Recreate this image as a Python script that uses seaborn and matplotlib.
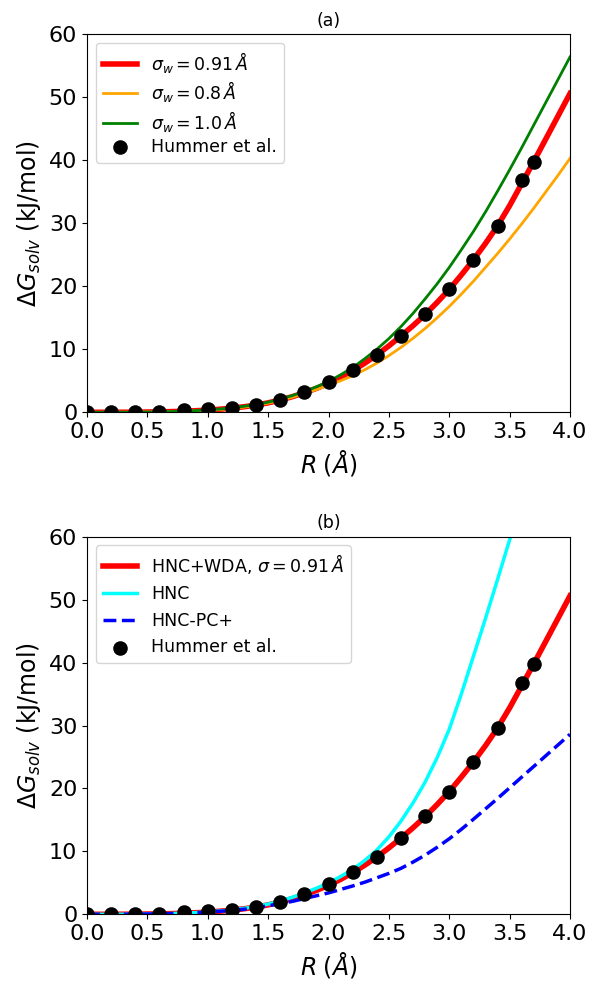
import numpy as np
import pandas as pd
import matplotlib
matplotlib.use("Agg")
import matplotlib.pyplot as plt
import seaborn as sns

# ---- data ----
R_grid = [0.0, 0.1, 0.2, 0.3, 0.4, 0.5, 0.6, 0.7, 0.8, 0.9, 1.0,
          1.1, 1.2, 1.3, 1.4, 1.5, 1.6, 1.7, 1.8, 1.9, 2.0,
          2.1, 2.2, 2.3, 2.4, 2.5, 2.6, 2.7, 2.8, 2.9, 3.0,
          3.1, 3.2, 3.3, 3.4, 3.5, 3.6, 3.7, 3.8, 3.9, 4.0]

wda_091 = [0.0, 0.0, 0.0, 0.01, 0.02, 0.04, 0.07, 0.11, 0.17, 0.25, 0.35,
           0.49, 0.65, 0.88, 1.15, 1.5, 1.95, 2.48, 3.1, 3.8, 4.6,
           5.55, 6.6, 7.8, 9.1, 10.55, 12.1, 13.75, 15.5, 17.45, 19.5,
           21.8, 24.2, 26.8, 29.6, 32.8, 36.3, 39.8, 43.4, 47.0, 50.6]
wda_080 = [0.0, 0.0, 0.0, 0.01, 0.02, 0.04, 0.06, 0.1, 0.15, 0.22, 0.32,
           0.45, 0.6, 0.82, 1.1, 1.45, 1.9, 2.4, 3.0, 3.6, 4.3,
           5.0, 5.8, 6.75, 7.8, 9.0, 10.3, 11.75, 13.3, 15.0, 16.8,
           18.75, 20.8, 23.0, 25.2, 27.5, 29.9, 32.4, 35.0, 37.6, 40.3]
wda_100 = [0.0, 0.0, 0.0, 0.01, 0.02, 0.04, 0.07, 0.12, 0.18, 0.27, 0.38,
           0.52, 0.7, 0.95, 1.25, 1.6, 2.1, 2.65, 3.3, 4.05, 4.9,
           5.95, 7.1, 8.5, 10.0, 11.7, 13.6, 15.7, 18.0, 20.4, 23.0,
           25.8, 28.7, 31.8, 35.1, 38.5, 42.0, 45.6, 49.2, 52.8, 56.4]

R_hnc = [0.0, 0.1, 0.2, 0.3, 0.4, 0.5, 0.6, 0.7, 0.8, 0.9, 1.0,
         1.1, 1.2, 1.3, 1.4, 1.5, 1.6, 1.7, 1.8, 1.9, 2.0,
         2.1, 2.2, 2.3, 2.4, 2.5, 2.6, 2.7, 2.8, 2.9, 3.0,
         3.1, 3.2, 3.3, 3.4, 3.5, 3.6]
hnc = [0.0, 0.0, 0.0, 0.01, 0.02, 0.04, 0.07, 0.12, 0.18, 0.27, 0.38,
       0.52, 0.7, 0.95, 1.25, 1.62, 2.12, 2.7, 3.4, 4.15, 5.0,
       6.0, 7.15, 8.55, 10.2, 12.3, 14.8, 17.7, 21.0, 24.9, 29.4,
       35.0, 41.0, 47.0, 53.2, 59.5, 65.8]
hnc_pc = [0.0, 0.0, 0.0, 0.01, 0.02, 0.04, 0.07, 0.11, 0.17, 0.25, 0.35,
          0.48, 0.63, 0.8, 1.05, 1.35, 1.7, 2.05, 2.5, 2.95, 3.4,
          3.95, 4.5, 5.1, 5.8, 6.5, 7.3, 8.3, 9.4, 10.65, 12.0,
          13.5, 15.1, 16.75, 18.4, 20.1, 21.8, 23.5, 25.2, 26.9, 28.6]

R_hummer = [0.0, 0.2, 0.4, 0.6, 0.8, 1.0, 1.2, 1.4, 1.6, 1.8, 2.0,
            2.2, 2.4, 2.6, 2.8, 3.0, 3.2, 3.4, 3.6, 3.7]
hummer = [0.0, 0.02, 0.05, 0.1, 0.3, 0.45, 0.7, 1.2, 2.0, 3.2, 4.8,
          6.7, 9.1, 12.1, 15.6, 19.5, 24.2, 29.6, 36.8, 39.8]

xticks = [0.0, 0.5, 1.0, 1.5, 2.0, 2.5, 3.0, 3.5, 4.0]
yticks = [0, 10, 20, 30, 40, 50, 60]

df_a = pd.DataFrame({"R": R_grid, "w091": wda_091, "w080": wda_080, "w100": wda_100,
                     "pc": hnc_pc})
df_h = pd.DataFrame({"R": R_hnc, "hnc": hnc})
df_d = pd.DataFrame({"R": R_hummer, "G": hummer})

plt.rcParams["font.family"] = ["DejaVu Sans"]
plt.rcParams["mathtext.fontset"] = "dejavusans"

fig = plt.figure(figsize=(5.92, 9.82), dpi=100)
left, right = 87 / 592, 570 / 592
ax1 = fig.add_axes([left, 1 - 412.3 / 982, right - left, (412.3 - 34.3) / 982])
ax2 = fig.add_axes([left, 1 - 914.3 / 982, right - left, (914.3 - 536.7) / 982])

# panel (a)
sns.lineplot(data=df_a, x="R", y="w091", ax=ax1, color="red", lw=4,
             label=r"$\sigma_w = 0.91\,\AA$")
sns.lineplot(data=df_a, x="R", y="w080", ax=ax1, color="orange", lw=2,
             label=r"$\sigma_w = 0.8\,\AA$")
sns.lineplot(data=df_a, x="R", y="w100", ax=ax1, color="green", lw=2,
             label=r"$\sigma_w = 1.0\,\AA$")
sns.scatterplot(data=df_d, x="R", y="G", ax=ax1, color="black", s=110,
                linewidth=0, label="Hummer et al.", zorder=5)

# panel (b)
sns.lineplot(data=df_a, x="R", y="w091", ax=ax2, color="red", lw=4,
             label=r"HNC+WDA, $\sigma = 0.91\,\AA$")
sns.lineplot(data=df_h, x="R", y="hnc", ax=ax2, color="cyan", lw=2.5,
             label="HNC")
sns.lineplot(data=df_a, x="R", y="pc", ax=ax2, color="blue", lw=2.5,
             linestyle="--", label="HNC-PC+")
sns.scatterplot(data=df_d, x="R", y="G", ax=ax2, color="black", s=110,
                linewidth=0, label="Hummer et al.", zorder=5)

for ax, title, lsp in [(ax1, "(a)", 0.25), (ax2, "(b)", 0.5)]:
    ax.set_xlim(0, 4)
    ax.set_ylim(0, 60)
    ax.set_xticks(xticks)
    ax.set_yticks(yticks)
    ax.tick_params(labelsize=16)
    ax.set_xlabel(r"$R\;(\AA)$", fontsize=17)
    ax.set_ylabel(r"$\Delta G_{solv}$ (kJ/mol)", fontsize=17)
    ax.set_title(title, fontsize=12.5)
    ax.legend(loc="upper left", fontsize=12.5, labelspacing=lsp)

fig.savefig("out.png", dpi=100)
